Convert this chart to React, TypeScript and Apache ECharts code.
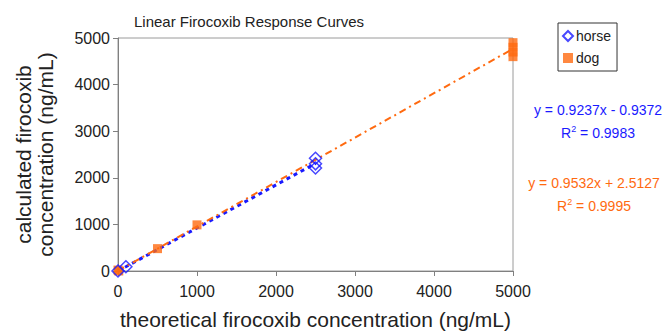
import React, { useEffect, useRef } from "react";
import * as echarts from "echarts";

const horseX = [0, 100, 2500, 2500, 2500];
const horseY = [0, 90, 2420, 2300, 2210];
const dogX = [0, 10, 500, 1000, 5000, 5000, 5000, 5000];
const dogY = [20, 0, 480, 990, 4600, 4700, 4800, 4900];
const horseFit = { slope: 0.9237, intercept: -0.9372, r2: 0.9983, xMax: 2500 };
const dogFit = { slope: 0.9532, intercept: 2.5127, r2: 0.9995, xMax: 5000 };
const axisTicks = [0, 1000, 2000, 3000, 4000, 5000];

const BLUE = "#1a1aff";
const ORANGE = "#ff6a10";
const FONT = "Liberation Sans, Arial, sans-serif";

function fitLine(f: { slope: number; intercept: number; xMax: number }) {
  return [0, f.xMax].map((x) => [x, f.slope * x + f.intercept]);
}

function eqText(f: { slope: number; intercept: number }) {
  const sign = f.intercept < 0 ? "-" : "+";
  return `y = ${f.slope.toFixed(4)}x ${sign} ${Math.abs(f.intercept).toFixed(4)}`;
}

export default function App() {
  const ref = useRef<HTMLDivElement>(null);
  useEffect(() => {
    if (!ref.current) return;
    const chart = echarts.init(ref.current, null, { renderer: "svg" });
    const axisCommon = {
      type: "value",
      min: axisTicks[0],
      max: axisTicks[axisTicks.length - 1],
      interval: 1000,
      splitLine: { show: false },
      axisLine: { show: true, lineStyle: { color: "#808080", width: 1 } },
      axisTick: { show: true, length: 5, lineStyle: { color: "#808080" } },
      axisLabel: { color: "#222", fontSize: 16, fontFamily: FONT, formatter: (v: number) => String(v) },
      nameTextStyle: { color: "#222", fontSize: 21, fontFamily: FONT, lineHeight: 22 },
      nameLocation: "middle",
    };
    chart.setOption({
      animation: false,
      backgroundColor: "#fff",
      title: {
        text: "Linear Firocoxib Response Curves",
        left: 244,
        textAlign: "center",
        top: 9,
        textStyle: { color: "#222", fontSize: 15, fontWeight: "normal", fontFamily: FONT },
      },
      grid: {
        left: 118,
        right: 158,
        top: 38,
        bottom: 61,
        show: true,
        borderColor: "#9a9a9a",
        borderWidth: 1,
        backgroundColor: "transparent",
      },
      legend: {
        orient: "vertical",
        left: 558,
        top: 23,
        width: 55,
        padding: [6, 6, 6, 4],
        itemGap: 8,
        itemWidth: 10,
        itemHeight: 10,
        borderColor: "#333",
        borderWidth: 1,
        data: ["horse", "dog"],
        textStyle: { color: "#222", fontSize: 14, fontFamily: FONT, padding: [0, 0, 0, -2] },
      },
      xAxis: {
        ...axisCommon,
        name: "theoretical firocoxib concentration (ng/mL)",
        nameGap: 37,
        axisLabel: { ...axisCommon.axisLabel, margin: 12 },
      },
      yAxis: {
        ...axisCommon,
        name: "calculated firocoxib\nconcentration (ng/mL)",
        nameGap: 62,
        axisLabel: { ...axisCommon.axisLabel, margin: 8 },
      },
      series: [
        {
          name: "horse fit",
          type: "line",
          data: fitLine(horseFit),
          symbol: "none",
          lineStyle: { color: BLUE, width: 3, type: [4, 4] },
          z: 3,
        },
        {
          name: "dog fit",
          type: "line",
          data: fitLine(dogFit),
          symbol: "none",
          lineStyle: { color: ORANGE, width: 2, type: [7, 4, 2, 4] },
          z: 3,
        },
        {
          name: "dog",
          type: "scatter",
          data: dogX.map((x, i) => [x, dogY[i]]),
          symbol: "rect",
          symbolSize: 9,
          itemStyle: { color: ORANGE },
          z: 4,
        },
        {
          name: "horse",
          type: "scatter",
          data: horseX.map((x, i) => [x, horseY[i]]),
          symbol: "diamond",
          symbolSize: 12,
          itemStyle: { color: "rgba(255,255,255,0)", borderColor: BLUE, borderWidth: 1.5 },
          z: 5,
        },
      ],
      graphic: [
        {
          type: "text",
          x: 598,
          y: 110,
          style: { text: eqText(horseFit), fill: BLUE, font: `14px ${FONT}`, textAlign: "center", textVerticalAlign: "middle" },
        },
        {
          type: "text",
          x: 598,
          y: 133,
          style: {
            text: "{a|R}{s|2}{a| = " + horseFit.r2.toFixed(4) + "}",
            fill: BLUE,
            textAlign: "center",
            textVerticalAlign: "middle",
            rich: {
              a: { fontSize: 14, fontFamily: FONT, fill: BLUE },
              s: { fontSize: 9, fontFamily: FONT, fill: BLUE, verticalAlign: "top", padding: [0, 0, 8, 0] },
            },
          },
        },
        {
          type: "text",
          x: 594,
          y: 183,
          style: { text: eqText(dogFit), fill: ORANGE, font: `14px ${FONT}`, textAlign: "center", textVerticalAlign: "middle" },
        },
        {
          type: "text",
          x: 594,
          y: 206,
          style: {
            text: "{a|R}{s|2}{a| = " + dogFit.r2.toFixed(4) + "}",
            fill: ORANGE,
            textAlign: "center",
            textVerticalAlign: "middle",
            rich: {
              a: { fontSize: 14, fontFamily: FONT, fill: ORANGE },
              s: { fontSize: 9, fontFamily: FONT, fill: ORANGE, verticalAlign: "top", padding: [0, 0, 8, 0] },
            },
          },
        },
      ],
    });
    return () => chart.dispose();
  }, []);
  return <div ref={ref} style={{ width: 671, height: 335, position: "absolute", left: 0, top: 0 }} />;
}
